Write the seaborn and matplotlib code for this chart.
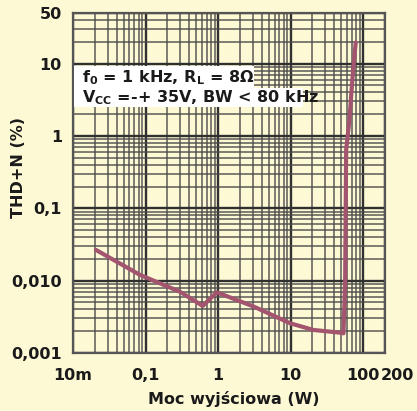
import matplotlib
matplotlib.use("Agg")
import matplotlib.pyplot as plt
import matplotlib.patches as mpatches
import matplotlib.transforms as mtrans
from matplotlib.ticker import LogLocator, NullFormatter, FixedLocator, FixedFormatter
import seaborn as sns
import pandas as pd

# ---- data ----
power_w = [0.0207, 0.084, 0.30, 0.615, 0.96, 3.07, 9.8, 20.7, 48.0, 53.5, 56.5, 58.3, 64.7, 69.8, 73.5, 79.0]
thd_pct = [0.0266, 0.0120, 0.0070, 0.00447, 0.0069, 0.0044, 0.00258, 0.00208, 0.00191, 0.00187, 0.010, 0.64, 1.67, 4.8, 9.1, 19.6]

x_ticks = [0.01, 0.1, 1, 10, 100, 200]
x_tick_labels = ["10m", "0,1", "1", "10", "100", "200"]
y_ticks = [0.001, 0.01, 0.1, 1, 10, 50]
y_tick_labels = ["0,001", "0,010", "0,1", "1", "10", "50"]

x_label = "Moc wyjściowa (W)"
y_label = "THD+N (%)"
note_line1 = r"f$_0$ = 1 kHz, R$_L$ = 8Ω"
note_line2 = r"V$_{CC}$ =-+ 35V, BW < 80 kHz"

# ---- style ----
sns.set_style("white")
plt.rcParams["font.family"] = ["DejaVu Sans"]
plt.rcParams["mathtext.default"] = "bf"

BG = "#FEF9D5"
LINE = "#A3546F"
GRID_MAJ = "#303030"
GRID_MIN = "#4a4a4a"
FS = 11.5

W, H = 417, 411
fig = plt.figure(figsize=(W / 100, H / 100), dpi=100, facecolor=BG)
L, R, T, B = 73, 385, 13, 353
ax = fig.add_axes([L / W, (H - B) / H, (R - L) / W, (B - T) / H])
ax.set_facecolor(BG)

df = pd.DataFrame({"P": power_w, "THD": thd_pct})
sns.lineplot(data=df, x="P", y="THD", ax=ax, color=LINE, lw=3.0,
             sort=False, estimator=None, zorder=5)

ax.set_xscale("log")
ax.set_yscale("log")
ax.set_xlim(0.01, 200)
ax.set_ylim(0.001, 50)

ax.xaxis.set_major_locator(FixedLocator(x_ticks))
ax.xaxis.set_major_formatter(FixedFormatter(x_tick_labels))
ax.yaxis.set_major_locator(FixedLocator(y_ticks))
ax.yaxis.set_major_formatter(FixedFormatter(y_tick_labels))
ax.xaxis.set_minor_locator(LogLocator(base=10, subs=range(2, 10), numticks=20))
ax.yaxis.set_minor_locator(LogLocator(base=10, subs=range(2, 10), numticks=20))
ax.xaxis.set_minor_formatter(NullFormatter())
ax.yaxis.set_minor_formatter(NullFormatter())

ax.grid(True, which="major", color=GRID_MAJ, lw=1.7, zorder=1)
ax.grid(True, which="minor", color=GRID_MIN, lw=1.1, alpha=0.9, zorder=1)
ax.set_axisbelow(True)

ax.tick_params(axis="both", which="both", length=0)
ax.tick_params(axis="x", pad=11)
ax.tick_params(axis="y", pad=8)

fig.canvas.draw()
for lab in ax.get_xticklabels() + ax.get_yticklabels():
    lab.set_fontweight("bold")
    lab.set_fontsize(FS)
    lab.set_color("#1a1a1a")
# "100" and "200" sit side by side as in the reference
last = ax.get_xticklabels()[-1]
last.set_horizontalalignment("left")
last.set_transform(last.get_transform() + mtrans.ScaledTranslation(-0.04, 0, fig.dpi_scale_trans))

for s in ax.spines.values():
    s.set_color("#555555")
    s.set_linewidth(1.6)

ax.set_xlabel(x_label, fontsize=FS, fontweight="bold", color="#1a1a1a")
ax.xaxis.set_label_coords((234 - L) / (R - L), (B - 399) / (B - T))
ax.xaxis.label.set_va("center")
ax.set_ylabel(y_label, fontsize=FS, fontweight="bold", color="#1a1a1a")
ax.yaxis.set_label_coords((19 - L) / (R - L), (B - 167) / (B - T))
ax.yaxis.label.set_va("center")

# white note boxes behind the condition text
for (x0, y0, x1, y1) in [(74, 66, 254, 88), (74, 88, 303, 107)]:
    fig.patches.append(mpatches.Rectangle((x0 / W, (H - y1) / H), (x1 - x0) / W, (y1 - y0) / H,
                                          transform=fig.transFigure, facecolor="white",
                                          edgecolor="none", zorder=10))
fig.text(82 / W, (H - 77.5) / H, note_line1, fontsize=FS, fontweight="bold",
         va="center", ha="left", color="#1a1a1a", zorder=11)
fig.text(82 / W, (H - 98) / H, note_line2, fontsize=FS, fontweight="bold",
         va="center", ha="left", color="#1a1a1a", zorder=11)

fig.savefig("out.png", dpi=100, facecolor=BG)
